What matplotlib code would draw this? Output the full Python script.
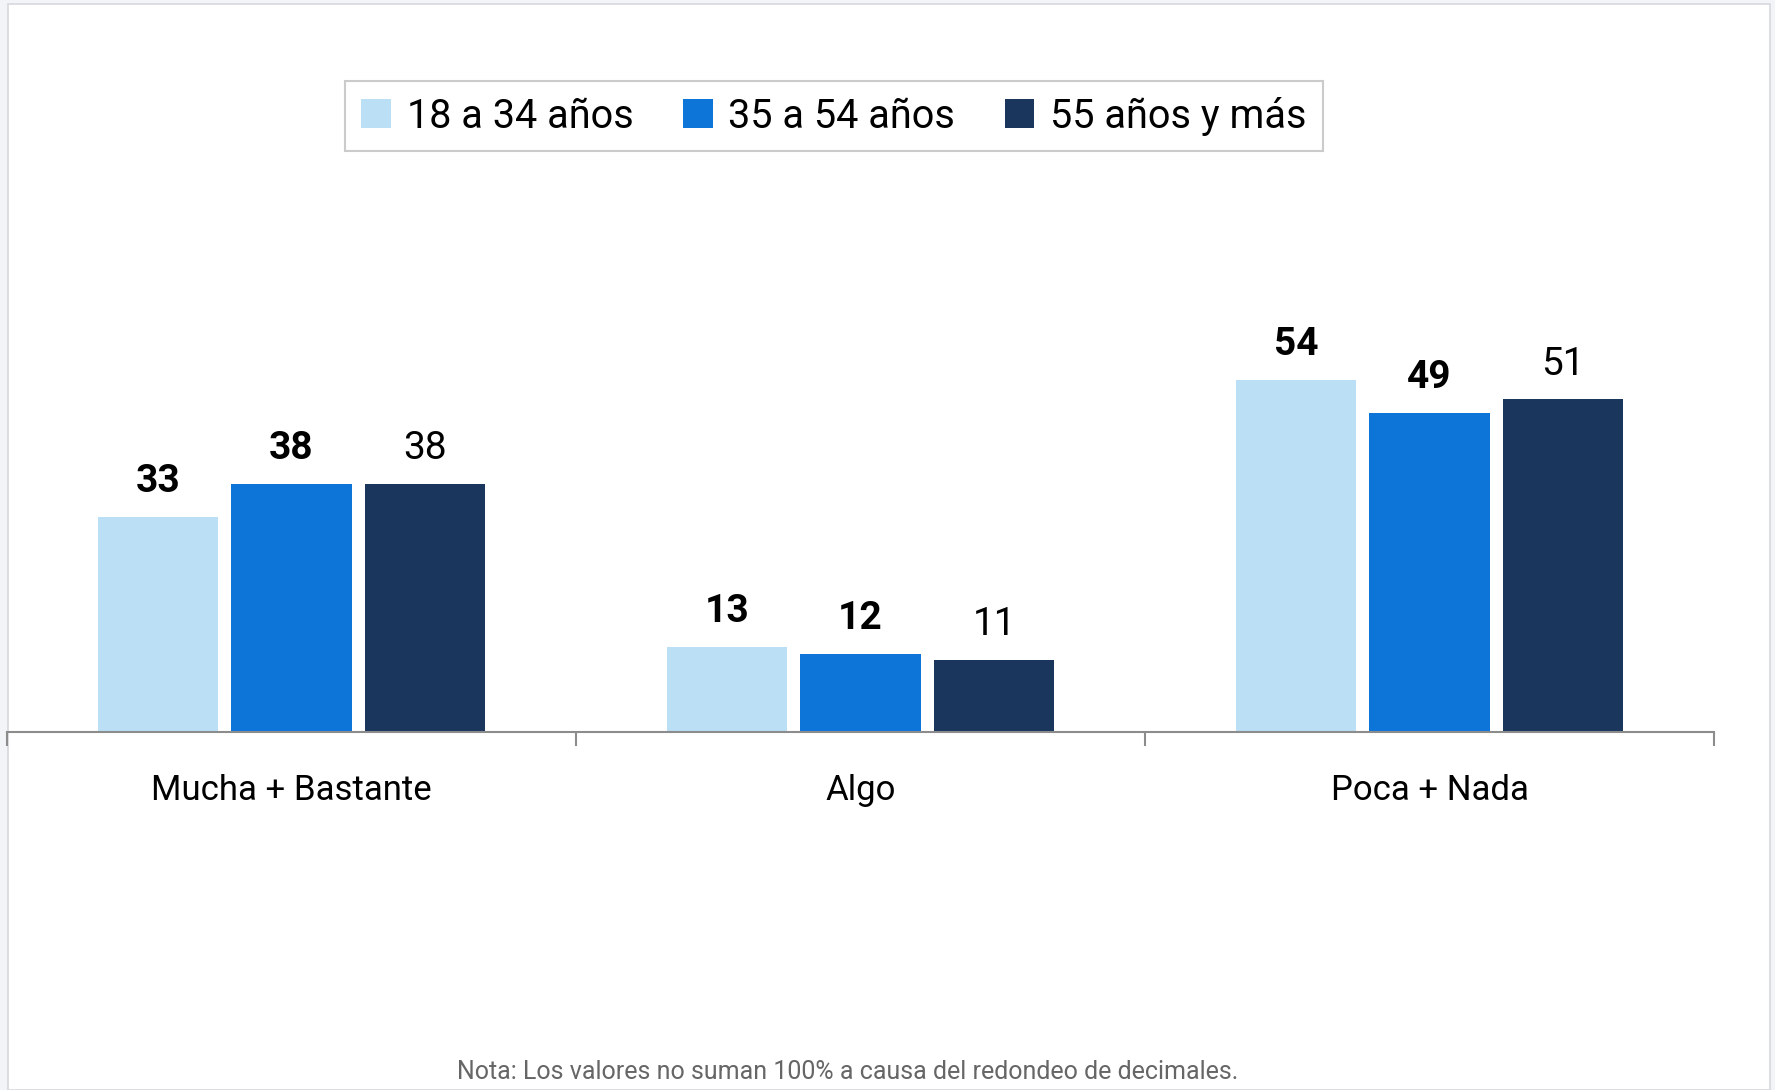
import matplotlib
matplotlib.use("Agg")
import matplotlib.pyplot as plt
from matplotlib.patches import Rectangle
import matplotlib.font_manager as fm
import numpy as np

categorias = ["Mucha + Bastante", "Algo", "Poca + Nada"]
series = ["18 a 34 años", "35 a 54 años", "55 años y más"]
v_18_34 = [33, 13, 54]
v_35_54 = [38, 12, 49]
v_55_mas = [38, 11, 51]
nota = "Nota: Los valores no suman 100% a causa del redondeo de decimales."

colores = ["#BBDFF5", "#0D74D8", "#1A365D"]
negrita = ["bold", "bold", "normal"]

nombres = {f.name for f in fm.fontManager.ttflist}
fuente = "Liberation Sans Narrow" if "Liberation Sans Narrow" in nombres else "Roboto"
plt.rcParams["font.family"] = [fuente, "DejaVu Sans"]

fig = plt.figure(figsize=(17.75, 10.90), dpi=100)
fig.patch.set_facecolor("#F3F4F8")
fig.patches.append(Rectangle((8 / 1775, 0), 1762 / 1775, 1086 / 1090,
                             transform=fig.transFigure, facecolor="white",
                             edgecolor="#D6D8DD", linewidth=1.2, zorder=-5))

ax = fig.add_axes([7 / 1775, 358 / 1090, 1707 / 1775, 582 / 1090])
ax.set_facecolor("none")
x = np.arange(len(categorias))
ancho = 0.211
paso = 0.235
datos = [v_18_34, v_35_54, v_55_mas]
for i, vals in enumerate(datos):
    pos = x + (i - 1) * paso
    ax.bar(pos, vals, width=ancho, color=colores[i], label=series[i], zorder=2)
    for p, v in zip(pos, vals):
        ax.text(p, v + 2.6, str(v), ha="center", va="bottom", fontsize=28,
                fontweight=negrita[i], color="black")

ax.set_xlim(-0.5, 2.5)
ax.set_ylim(0, 582 / 6.52)
for s in ["top", "right", "left"]:
    ax.spines[s].set_visible(False)
ax.spines["bottom"].set_color("#8C8C8C")
ax.spines["bottom"].set_linewidth(1.5)
ax.set_yticks([])
ax.set_xticks([-0.5, 0.5, 1.5, 2.5])
ax.set_xticklabels([])
ax.tick_params(axis="x", length=10, width=1.5, color="#8C8C8C")
for c, nombre in zip(x, categorias):
    ax.text(c, -8.9, nombre, ha="center", va="center", fontsize=25, color="black")

leg = fig.legend(loc="center", bbox_to_anchor=(834 / 1775, 1 - 116 / 1090), ncol=3,
                 fontsize=28.5, frameon=True, fancybox=False, handlelength=0.75,
                 handleheight=0.75, handletextpad=0.4, columnspacing=1.25,
                 borderpad=0.4, borderaxespad=0)
leg.get_frame().set_edgecolor("#BFBFBF")
leg.get_frame().set_linewidth(1.5)

fig.text(848 / 1775, 1 - 1072 / 1090, nota, ha="center", va="center",
         fontsize=18, color="#666666")

fig.savefig("out.png", dpi=100, facecolor=fig.get_facecolor())
